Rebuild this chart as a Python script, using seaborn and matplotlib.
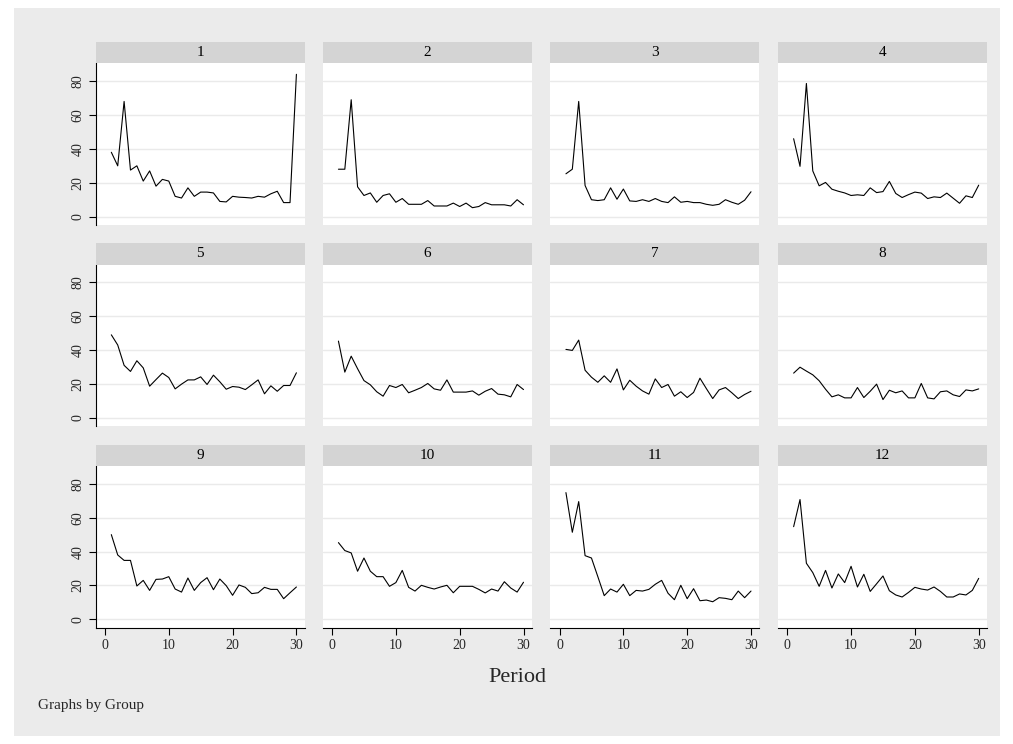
import numpy as np
import pandas as pd
import matplotlib
matplotlib.use("Agg")
import matplotlib.pyplot as plt
from matplotlib.patches import Rectangle
import seaborn as sns

periods = list(range(1, 31))

g1 = [38, 30, 68, 27.5, 30, 21, 27, 18, 22, 21, 12, 11, 17, 12, 14.5, 14.5, 14, 9, 8.7, 12,
      11.5, 11.3, 11, 12, 11.5, 13.5, 15, 8.3, 8.3, 84]
g2 = [28, 28, 69, 17.6, 12.5, 14, 8.5, 12.5, 13.5, 8.5, 10.7, 7.3, 7.3, 7.3, 9.5, 6.3, 6.3, 6.3, 8, 6,
      8, 5.3, 6, 8.3, 7, 7, 7, 6.3, 10, 7]
g3 = [25.3, 28, 68, 18.4, 10, 9.5, 10, 17, 10.3, 16.3, 9.3, 9, 10, 9, 10.7, 9, 8.3, 11.7, 8.5, 9,
      8.3, 8.3, 7.3, 6.7, 7.3, 10, 8.5, 7.3, 9.7, 14.7]
g4 = [46, 29.7, 78.6, 27, 18.2, 20.2, 16.2, 15, 14, 12.5, 12.9, 12.5, 17, 14.2, 14.8, 20.8, 13.7, 11.3, 13, 14.5,
      13.9, 10.7, 11.7, 11.3, 13.9, 10.9, 7.9, 12.3, 11.3, 18.6]
g5 = [49, 43, 31, 27.4, 33.7, 29.5, 18.7, 22.6, 26.4, 23.8, 17.1, 19.9, 22.4, 22.4, 24.2, 19.7, 25.2, 21.3, 16.9, 18.5,
      18.1, 16.7, 19.5, 22.4, 14.2, 18.9, 15.7, 19.1, 19.1, 26.6]
g6 = [45.3, 27, 36.4, 29, 22, 19.5, 15.4, 12.8, 19.1, 17.9, 19.7, 14.8, 16.3, 17.9, 20.3, 17.1, 16.3, 22.4, 15.2, 15.2,
      15.2, 15.9, 13.4, 15.7, 17.3, 14, 13.6, 12.4, 19.7, 16.7]
g7 = [40.4, 39.8, 45.9, 28.1, 24, 21, 24.8, 21, 28.9, 16.5, 22.2, 18.7, 15.9, 14, 23, 17.9, 19.7, 12.8, 15.4, 12,
      15, 23.4, 17.3, 11.4, 16.5, 17.9, 14.8, 11.4, 13.8, 15.7]
g8 = [26.4, 29.9, 27.6, 25.4, 21.9, 16.9, 12.4, 13.6, 11.8, 11.8, 17.9, 12, 15.7, 19.9, 10.8, 16.3, 14.8, 15.9, 11.8, 11.8,
      20.3, 11.8, 11.2, 15.4, 15.9, 13.6, 12.6, 16.5, 15.9, 17.1]
g9 = [50, 38, 34.8, 34.8, 19.7, 23, 17.1, 23.6, 23.8, 25.2, 17.9, 16.1, 24.4, 17.1, 21.7, 24.6, 17.5, 23.8, 19.9, 14.2,
      20.3, 18.9, 15.2, 15.7, 18.9, 17.7, 17.7, 12.2, 15.7, 19.1]
g10 = [45.3, 40.6, 39.2, 28.4, 36.2, 28.4, 25.2, 25.2, 19.5, 21.7, 28.9, 18.9, 16.7, 20.1, 18.9, 17.9, 19.1, 20.1, 15.7, 19.5,
       19.5, 19.5, 17.7, 15.6, 17.9, 16.7, 22.2, 18.5, 16.1, 21.9]
g11 = [74.8, 51.4, 69.5, 37.6, 36.2, 25.2, 14, 17.9, 16.1, 20.7, 14, 17.1, 16.7, 17.7, 20.7, 23, 15.4, 11.6, 20.1, 12.2,
       18.1, 11, 11.4, 10.4, 12.8, 12.4, 11.6, 16.7, 12.8, 16.7]
g12 = [54.7, 70.7, 33.1, 27.6, 19.5, 28.9, 18.5, 26.8, 21.7, 31.3, 19.1, 26.6, 16.5, 21, 25.6, 16.9, 14.4, 13.2, 15.9, 18.9,
       17.9, 17.3, 19.1, 16.5, 13.2, 13.2, 15, 14.4, 17.1, 24.2]

groups = [1, 2, 3, 4, 5, 6, 7, 8, 9, 10, 11, 12]
series = [g1, g2, g3, g4, g5, g6, g7, g8, g9, g10, g11, g12]
y_ticks = [0, 20, 40, 60, 80]
x_ticks = [0, 10, 20, 30]

rows = []
for grp, vals in zip(groups, series):
    for p, v in zip(periods, vals):
        rows.append({"Group": grp, "Period": p, "Value": v})
df = pd.DataFrame(rows)

sns.set_theme(style="white")
plt.rcParams['font.family'] = ['Liberation Serif', 'DejaVu Serif']

BG = "#EBEBEB"
STRIP = "#D4D4D4"
GRID = "#EAEAEA"

g = sns.relplot(data=df, x="Period", y="Value", col="Group", col_wrap=4, kind="line",
                color="black", linewidth=0.8, height=2, aspect=1.3, facet_kws=dict(sharex=True, sharey=True))
fig = g.figure
fig.set_size_inches(10.13, 7.44)
fig.set_dpi(100)
fig.patch.set_facecolor("white")

W, H = 1013.0, 744.0
# outer graph region (light gray) inset from the image edge
fig.patches.append(Rectangle((14 / W, 1 - 736 / H), (1000 - 14) / W, (736 - 8) / H,
                             transform=fig.transFigure, facecolor=BG, edgecolor="none", zorder=-10))

lefts = [95.7, 322.8, 550.3, 778.0]
pw = 209.0
tops = [63.3, 264.5, 466.0]
ph = 161.5
strip_h = 21.5

for i, ax in enumerate(g.axes.flat):
    r, c = divmod(i, 4)
    x0 = lefts[c] / W
    y0 = 1 - (tops[r] + ph) / H
    ax.set_position([x0, y0, pw / W, ph / H])
    ax.set_facecolor("white")
    ax.set_xlim(-1.45, 31.3)
    ax.set_ylim(-4.8, 90.5)
    ax.set_yticks(y_ticks)
    ax.set_xticks(x_ticks)
    ax.grid(axis="y", color=GRID, linewidth=1.0)
    ax.set_axisbelow(True)
    ax.set_title("")
    ax.set_xlabel("")
    ax.set_ylabel("")
    for s in ["top", "right", "left", "bottom"]:
        ax.spines[s].set_visible(False)
    ax.tick_params(axis="both", which="both", length=0, labelleft=False, labelbottom=False,
                   left=False, bottom=False)
    if c == 0:
        ax.spines["left"].set_visible(True)
        ax.spines["left"].set_color("black")
        ax.spines["left"].set_linewidth(0.8)
        ax.tick_params(axis="y", left=True, labelleft=True, length=5, width=0.8,
                       color="black", labelsize=10, pad=3, direction="out")
        for lab in ax.get_yticklabels():
            lab.set_rotation(90)
            lab.set_va("center")
    if r == 2:
        ax.spines["bottom"].set_visible(True)
        ax.spines["bottom"].set_color("black")
        ax.spines["bottom"].set_linewidth(0.8)
        ax.tick_params(axis="x", bottom=True, labelbottom=True, length=5, width=0.8,
                       color="black", labelsize=10, pad=3, direction="out")
    # strip
    sh = strip_h / ph
    ax.add_patch(Rectangle((0, 1.0), 1, sh, transform=ax.transAxes, facecolor=STRIP,
                           edgecolor="none", clip_on=False, zorder=3))
    ax.text(0.5, 1.0 + sh / 2, str(groups[i]), transform=ax.transAxes, ha="center",
            va="center", fontsize=11, color="black", zorder=4)

fig.text(517 / W, 1 - 677 / H, "Period", ha="center", va="center", fontsize=16)
fig.text(38 / W, 1 - 706 / H, "Graphs by Group", ha="left", va="center", fontsize=11)

fig.savefig("out.png", dpi=100, facecolor="white")
